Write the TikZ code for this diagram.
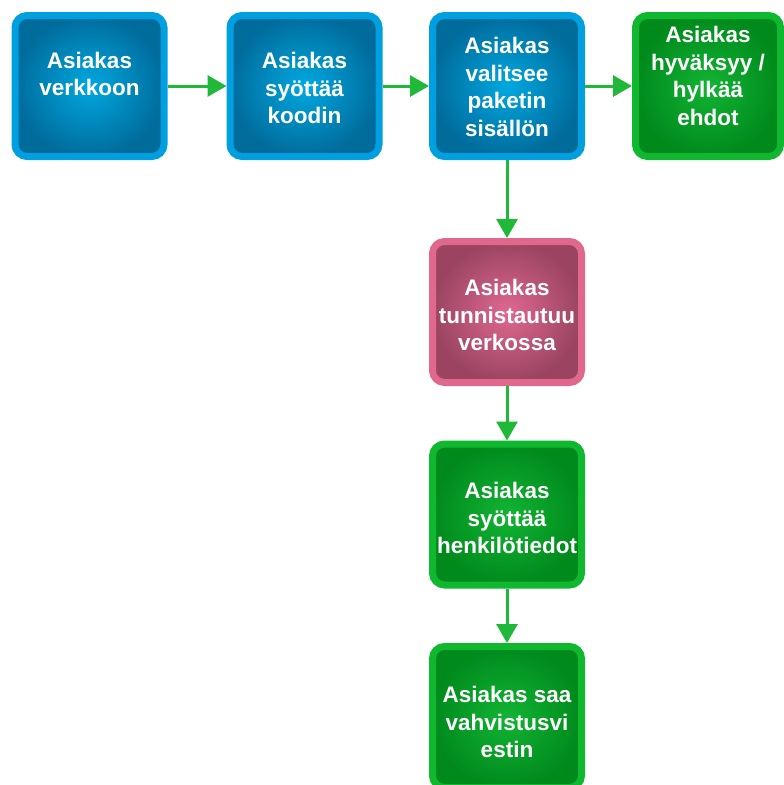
\documentclass[tikz,border=0pt]{standalone}
\usepackage{fontspec}
\setmainfont{Liberation Sans}
\usetikzlibrary{arrows.meta}
\definecolor{bluerim}{HTML}{00A0E0}
\definecolor{bluedark}{HTML}{006C9C}
\definecolor{bluelight}{HTML}{00A8E0}
\definecolor{greenrim}{HTML}{10B830}
\definecolor{greendark}{HTML}{008A1C}
\definecolor{greenlight}{HTML}{12B434}
\definecolor{pinkrim}{HTML}{E0688C}
\definecolor{pinkdark}{HTML}{9A4462}
\definecolor{pinklight}{HTML}{E06890}
\definecolor{arrowgreen}{HTML}{20B838}
\tikzset{
  boxbase/.style={rectangle, rounded corners=12pt, line width=7pt,
    minimum width=149pt, minimum height=141pt, inner sep=0pt, shading=radial},
  bluebox/.style={boxbase, draw=bluerim, inner color=bluelight, outer color=bluedark},
  greenbox/.style={boxbase, draw=greenrim, inner color=greenlight, outer color=greendark},
  pinkbox/.style={boxbase, draw=pinkrim, inner color=pinklight, outer color=pinkdark},
  txt/.style={text=white, align=center, font=\fontsize{22.5}{27.5}\selectfont\bfseries, inner sep=0pt},
  flow/.style={draw=arrowgreen, line width=3pt, -{Triangle[length=19pt,width=21pt]}}
}
\begin{document}
\begin{tikzpicture}[x=1pt,y=-1pt]
\useasboundingbox (0,0) rectangle (784,785);
\fill[white] (0,0) rectangle (784,785);
\begin{scope}
\clip (0,0) rectangle (784,785);
\node[bluebox] (b1) at (89.5,86) {};
\node[bluebox] (b2) at (304.5,86) {};
\node[bluebox] (b3) at (507,86) {};
\node[greenbox, minimum width=145pt] (b4) at (708,86) {};
\node[pinkbox] (b5) at (507,312) {};
\node[greenbox] (b6) at (507,514.5) {};
\node[greenbox] (b7) at (507,717) {};
\end{scope}
\node[txt] (t1) at (89.5,74) {Asiakas\\verkkoon};
\node[txt] (t2) at (304.5,88) {Asiakas\\syöttää\\koodin};
\node[txt] (t3) at (507,87) {Asiakas\\valitsee\\paketin\\sisällön};
\node[txt] (t4) at (708,76) {Asiakas\\hyväksyy /\\hylkää\\ehdot};
\node[txt] (t5) at (507,315) {Asiakas\\tunnistautuu\\verkossa};
\node[txt] (t6) at (507,518) {Asiakas\\syöttää\\henkilötiedot};
\node[txt] (t7) at (507,722) {Asiakas saa\\vahvistusvi\\estin};
\draw[flow] (b1.east) -- (b2.west);
\draw[flow] (b2.east) -- (b3.west);
\draw[flow] (b3.east) -- (b4.west);
\draw[flow] (b3.south) -- (b5.north);
\draw[flow] (b5.south) -- (b6.north);
\draw[flow] (b6.south) -- (b7.north);
\end{tikzpicture}
\end{document}
